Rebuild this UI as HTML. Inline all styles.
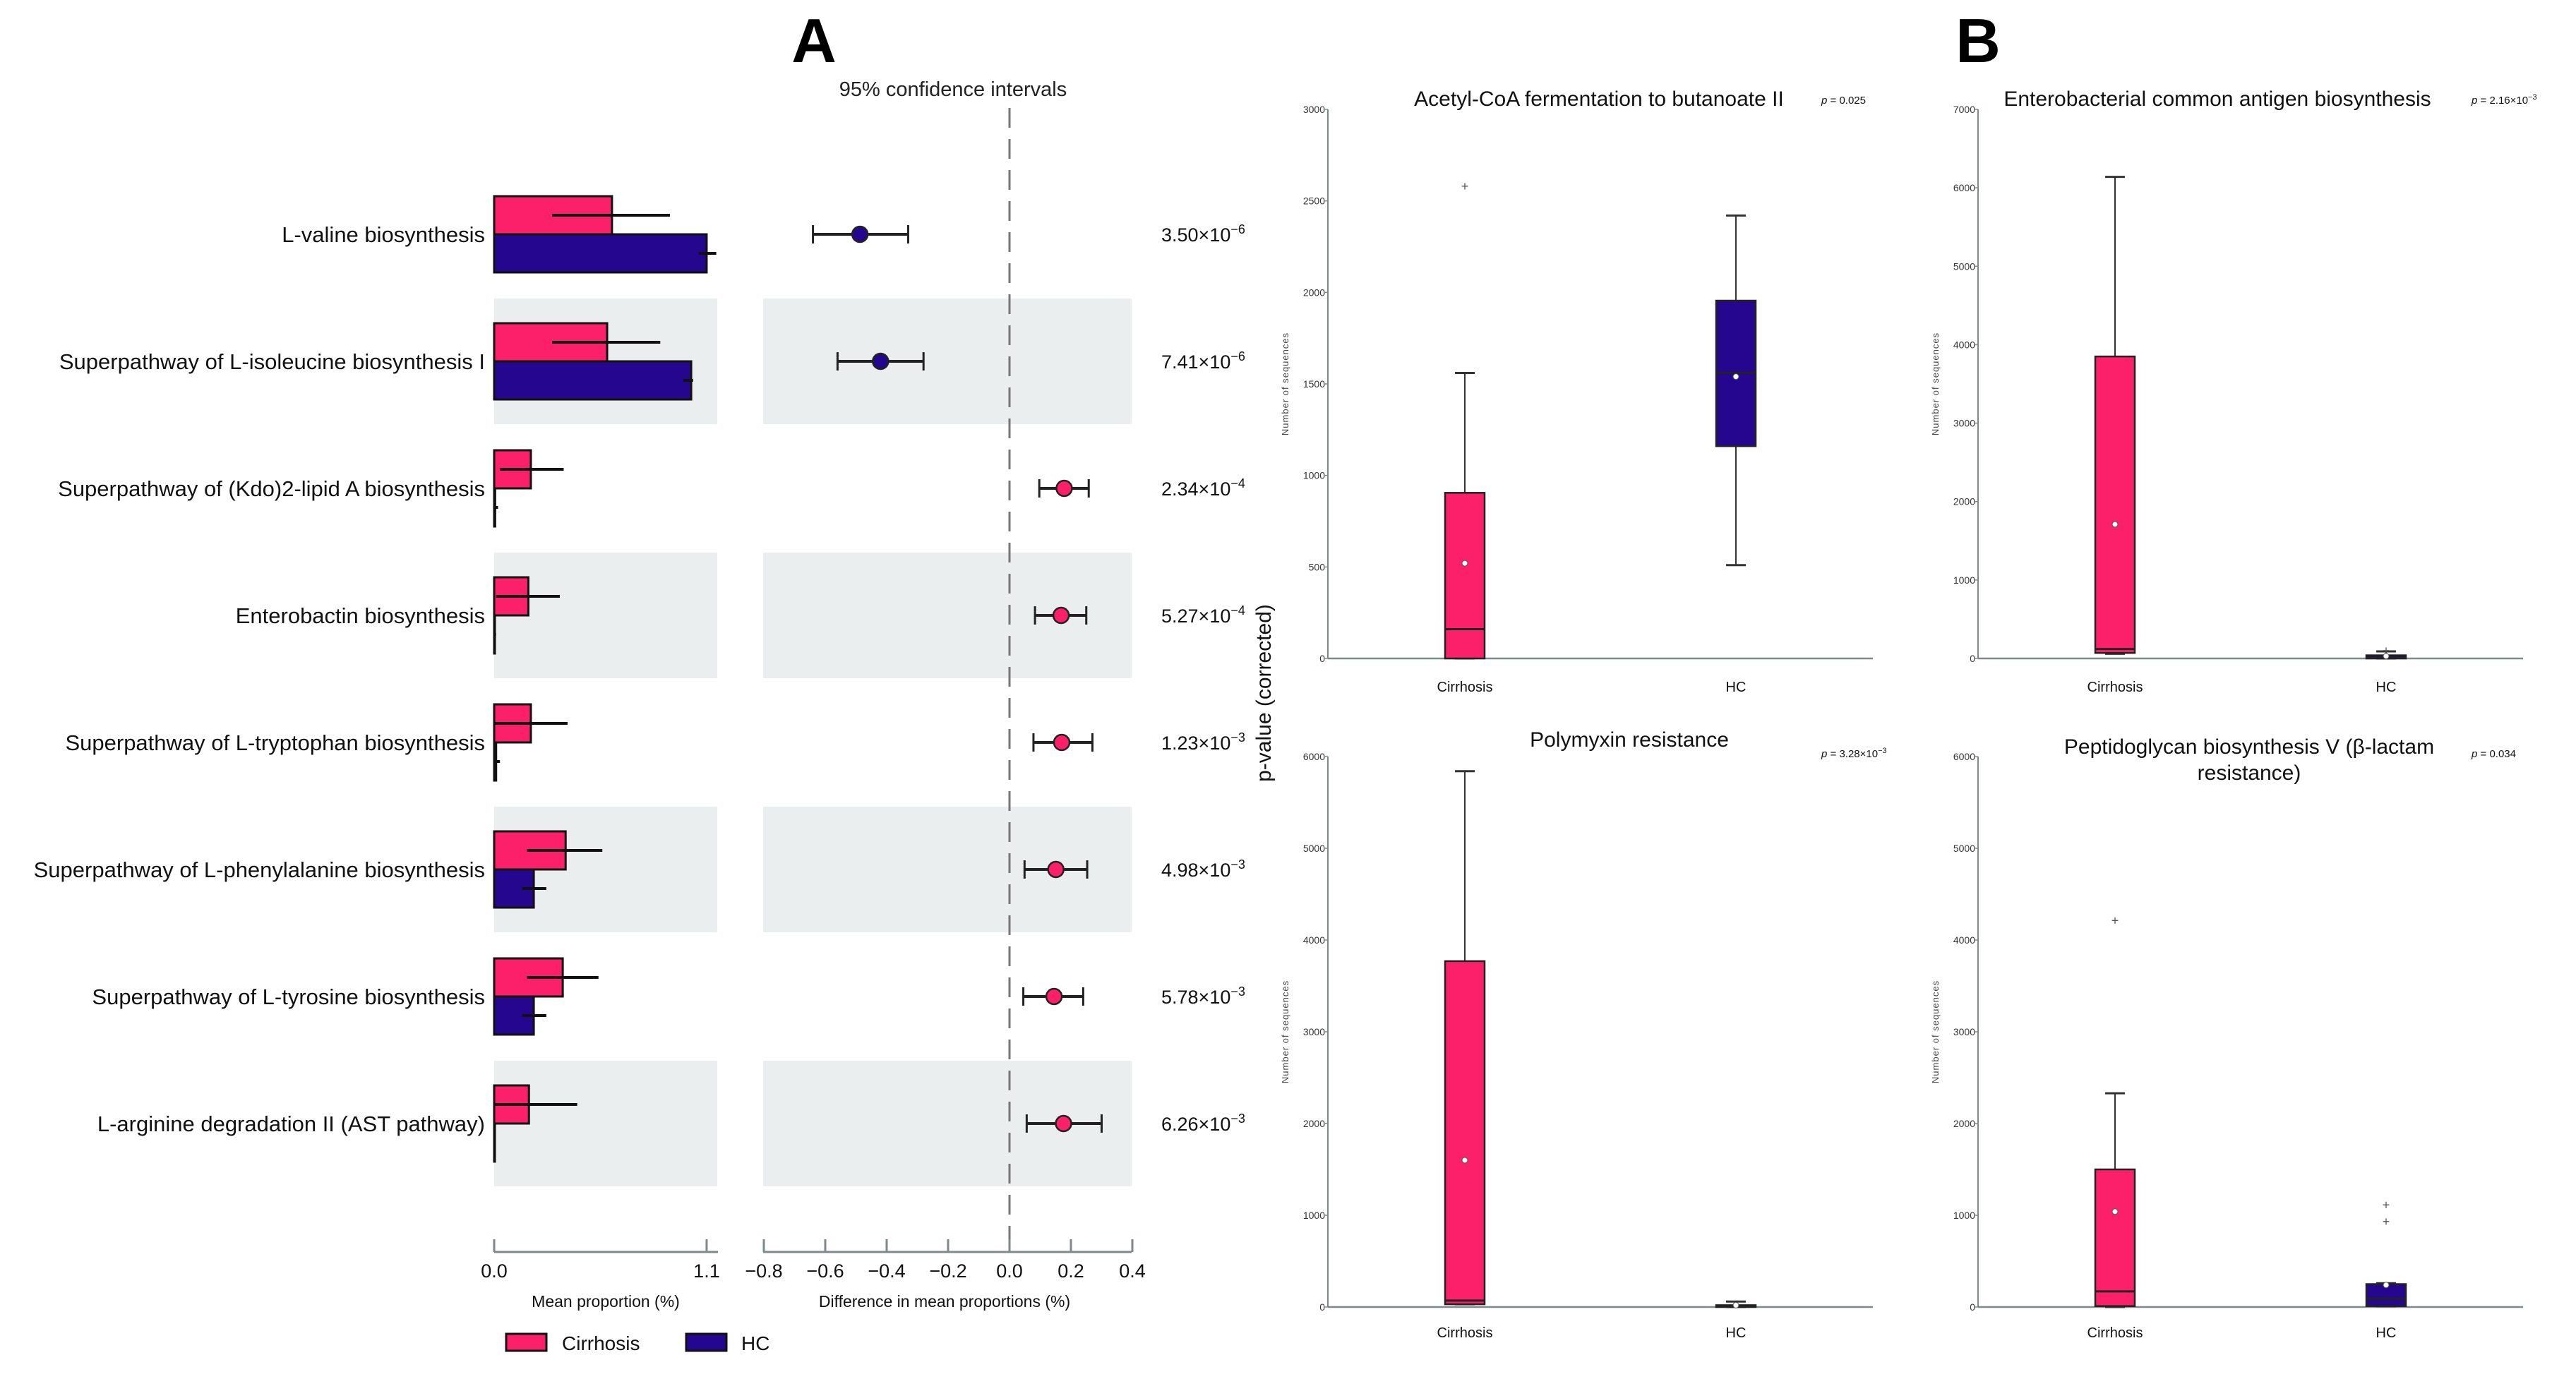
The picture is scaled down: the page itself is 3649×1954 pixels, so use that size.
<!DOCTYPE html>
<html><head><meta charset="utf-8"><style>
html,body{margin:0;padding:0;background:#fff}
svg{display:block;font-family:"Liberation Sans",sans-serif}
</style></head><body>
<svg id="fig" width="3649" height="1954" viewBox="0 0 3649 1954" xmlns="http://www.w3.org/2000/svg">
<text x="1153" y="88" font-size="88" font-weight="bold" text-anchor="middle">A</text>
<text x="2802" y="88" font-size="88" font-weight="bold" text-anchor="middle">B</text>
<text x="1350" y="136" font-size="29" text-anchor="middle" fill="#222">95% confidence intervals</text>
<text transform="translate(1800,982) rotate(-90)" font-size="30" text-anchor="middle" fill="#111">p-value (corrected)</text>
<g id="gA"></g><g id="gB"></g>
</svg>
<script>
const pathways=["L-valine biosynthesis","Superpathway of L-isoleucine biosynthesis I","Superpathway of (Kdo)2-lipid A biosynthesis","Enterobactin biosynthesis","Superpathway of L-tryptophan biosynthesis","Superpathway of L-phenylalanine biosynthesis","Superpathway of L-tyrosine biosynthesis","L-arginine degradation II (AST pathway)"];
const cirrMean=[0.61,0.585,0.19,0.177,0.19,0.37,0.355,0.18];
const cirrErrLo=[0.30,0.30,0.03,0.01,0.0,0.17,0.17,0.0];
const cirrErrHi=[0.91,0.86,0.36,0.34,0.38,0.56,0.54,0.43];
const hcMean=[1.10,1.02,0.005,0.003,0.01,0.205,0.205,0.0];
const hcErrLo=[1.06,0.98,0.0,0.0,0.0,0.145,0.145,0.0];
const hcErrHi=[1.15,1.03,0.02,0.01,0.03,0.27,0.27,0.0];
const diffVal=[-0.487,-0.42,0.178,0.168,0.17,0.151,0.145,0.176];
const diffLo=[-0.64,-0.56,0.097,0.083,0.078,0.049,0.045,0.056];
const diffHi=[-0.33,-0.28,0.258,0.25,0.27,0.253,0.24,0.30];
const pMant=["3.50","7.41","2.34","5.27","1.23","4.98","5.78","6.26"];
const pExp=["-6","-6","-4","-4","-3","-3","-3","-3"];
const barTicks=[0.0,1.1];
const diffTicks=[-0.8,-0.6,-0.4,-0.2,0.0,0.2,0.4];

const PINK="#fc1f6a",NAVY="#25078f",SHADE="#ebeeee",AX="#7c8a8a";
const NS="http://www.w3.org/2000/svg";
function mk(tag,attrs,parent,txt){const e=document.createElementNS(NS,tag);for(const k in attrs)e.setAttribute(k,attrs[k]);if(txt!==undefined)e.textContent=txt;parent.appendChild(e);return e;}
const gA=document.getElementById('gA');
const bx=v=>700+v*273.6;
const dx=v=>1430+v*435;
const rowY=i=>332+i*180;

for(let i=0;i<pathways.length;i++){
  const cy=rowY(i);
  if(i%2===1){
    const s1=mk('rect',{x:700,y:cy-89,width:316,height:178,fill:SHADE},gA);
    
    
    const s2=mk('rect',{x:1081,y:cy-89,width:522,height:178,fill:SHADE},gA);
    
    
  }
}
const dl=mk('line',{x1:dx(0),y1:153,x2:dx(0),y2:1774,stroke:"#777","stroke-width":3,"stroke-dasharray":"28 16"},gA);



for(let i=0;i<pathways.length;i++){
  const cy=rowY(i);
  const lb=mk('text',{x:687,y:cy+11,"font-size":31,"text-anchor":"end",fill:"#111"},gA,pathways[i]);
  
  
  const b1=mk('rect',{x:bx(0),y:cy-54,width:Math.max(bx(cirrMean[i])-bx(0),1),height:54,fill:PINK,stroke:"#111","stroke-width":3},gA);
  
  
  const b2=mk('rect',{x:bx(0),y:cy,width:Math.max(bx(hcMean[i])-bx(0),1),height:54,fill:NAVY,stroke:"#111","stroke-width":3},gA);
  
  
  const e1=mk('line',{x1:bx(cirrErrLo[i]),x2:bx(cirrErrHi[i]),y1:cy-27,y2:cy-27,stroke:"#111","stroke-width":4},gA);
  
  
  const e2=mk('line',{x1:bx(hcErrLo[i]),x2:bx(hcErrHi[i]),y1:cy+27,y2:cy+27,stroke:"#111","stroke-width":4},gA);
  
  
  const g=mk('g',{},gA);
  
  
  mk('line',{x1:dx(diffLo[i]),x2:dx(diffHi[i]),y1:cy,y2:cy,stroke:"#222","stroke-width":4},g);
  mk('line',{x1:dx(diffLo[i]),x2:dx(diffLo[i]),y1:cy-13,y2:cy+13,stroke:"#222","stroke-width":3},g);
  mk('line',{x1:dx(diffHi[i]),x2:dx(diffHi[i]),y1:cy-13,y2:cy+13,stroke:"#222","stroke-width":3},g);
  mk('circle',{cx:dx(diffVal[i]),cy:cy,r:11,fill:diffVal[i]<0?NAVY:PINK,stroke:"#222","stroke-width":2.5},g);
  const pt=mk('text',{x:1645,y:cy+10,"font-size":27,fill:"#111"},gA);
  
  
  pt.textContent=pMant[i]+"×10";
  mk('tspan',{dy:-11,"font-size":18},pt,pExp[i].replace('-','−'));
}
mk('line',{x1:700,x2:1017,y1:1774,y2:1774,stroke:AX,"stroke-width":3},gA);
mk('line',{x1:1081,x2:1603,y1:1774,y2:1774,stroke:AX,"stroke-width":3},gA);
barTicks.forEach(t=>{mk('line',{x1:bx(t),x2:bx(t),y1:1756,y2:1774,stroke:AX,"stroke-width":3},gA);
  const tl=mk('text',{x:bx(t),y:1810,"font-size":27,"text-anchor":"middle",fill:"#111"},gA,t.toFixed(1));
  
  });
diffTicks.forEach(t=>{mk('line',{x1:dx(t),x2:dx(t),y1:1756,y2:1774,stroke:AX,"stroke-width":3},gA);
  const tl=mk('text',{x:dx(t),y:1810,"font-size":27,"text-anchor":"middle",fill:"#111"},gA,(t<0?"−":"")+Math.abs(t).toFixed(1));
  
  });
const t1=mk('text',{x:858,y:1852,"font-size":23,"text-anchor":"middle",fill:"#111"},gA,"Mean proportion (%)");


const t2=mk('text',{x:1338,y:1852,"font-size":23,"text-anchor":"middle",fill:"#111"},gA,"Difference in mean proportions (%)");


const lg1=mk('g',{},gA);


mk('rect',{x:717,y:1890,width:57,height:24,fill:PINK,stroke:"#111","stroke-width":3},lg1);
mk('text',{x:796,y:1913,"font-size":28,fill:"#111"},lg1,"Cirrhosis");
const lg2=mk('g',{},gA);


mk('rect',{x:972,y:1890,width:57,height:24,fill:NAVY,stroke:"#111","stroke-width":3},lg2);
mk('text',{x:1050,y:1913,"font-size":28,fill:"#111"},lg2,"HC");

const boxTitles=[["Acetyl-CoA fermentation to butanoate II"],["Enterobacterial common antigen biosynthesis"],["Polymyxin resistance"],["Peptidoglycan biosynthesis V (β-lactam","resistance)"]];
const boxP=[["0.025",""],["2.16×10","−3"],["3.28×10","−3"],["0.034",""]];
const yMax=[3000,7000,6000,6000];
const yStep=[500,1000,1000,1000];
// [whiskerLow, q1, median, q3, whiskerHigh, mean]
const cirrStats=[[0,0,160,905,1560,520],[60,70,120,3850,6140,1710],[30,30,70,3770,5840,1600],[0,10,170,1500,2330,1040]];
const hcStats=[[510,1160,1560,1955,2420,1540],[0,0,10,40,90,30],[0,0,5,20,60,20],[10,10,90,250,260,240]];
const cirrOut=[[2580],[],[],[4210]];
const hcOut=[[],[100],[],[1110,930]];
const layout=[{ax:1881,top:155,bot:933,right:2653,tx:384},{ax:2802,top:155,bot:933,right:3574,tx:339},{ax:1881,top:1072,bot:1852,right:2653,tx:427},{ax:2802,top:1072,bot:1852,right:3574,tx:384}];
const gB=document.getElementById('gB');
for(let k=0;k<4;k++){
  const L=layout[k];
  const g=mk('g',{},gB);
  
  
  const y=v=>L.bot-(v/yMax[k])*(L.bot-L.top);
  const xC=L.ax+194, xH=L.ax+578;
  mk('line',{x1:L.ax,x2:L.ax,y1:L.top,y2:L.bot,stroke:AX,"stroke-width":2},g);
  mk('line',{x1:L.ax,x2:L.right,y1:L.bot,y2:L.bot,stroke:AX,"stroke-width":2.5},g);
  for(let v=0;v<=yMax[k];v+=yStep[k]){
    mk('line',{x1:L.ax-4,x2:L.ax,y1:y(v),y2:y(v),stroke:AX,"stroke-width":1.5},g);
    const tl=mk('text',{x:L.ax-4,y:y(v)+5,"font-size":14,"text-anchor":"end",fill:"#333"},g,String(v));
    
    
  }
  const yl=mk('text',{transform:`translate(${L.ax-56},${(L.top+L.bot)/2}) rotate(-90)`,"font-size":13,"text-anchor":"middle",fill:"#444","letter-spacing":"1"},g,"Number of sequences");
  
  
  boxTitles[k].forEach((line,j)=>{
    const tt=mk('text',{x:L.ax+L.tx,y:(k<2?150:(k===2?1058:1068))+j*37,"font-size":30,"text-anchor":"middle",fill:"#111"},g,line);
    
    
  });
  const pt=mk('text',{x:L.ax+699,y:k<2?147:1073,"font-size":15,fill:"#111"},g);
  
  
  mk('tspan',{"font-style":"italic"},pt,"p");
  mk('tspan',{},pt," = "+boxP[k][0]);
  if(boxP[k][1]) mk('tspan',{dy:-6,"font-size":11},pt,boxP[k][1]);
  [[xC,cirrStats[k],cirrOut[k],PINK,"Cirrhosis"],[xH,hcStats[k],hcOut[k],NAVY,"HC"]].forEach(([cx,s,outs,col,name])=>{
    const bg=mk('g',{},g);
    
    
    mk('line',{x1:cx,x2:cx,y1:y(s[4]),y2:y(s[3]),stroke:"#333","stroke-width":2},bg);
    mk('line',{x1:cx,x2:cx,y1:y(s[1]),y2:y(s[0]),stroke:"#333","stroke-width":2},bg);
    mk('line',{x1:cx-14,x2:cx+14,y1:y(s[4]),y2:y(s[4]),stroke:"#333","stroke-width":3},bg);
    mk('line',{x1:cx-14,x2:cx+14,y1:y(s[0]),y2:y(s[0]),stroke:"#333","stroke-width":3},bg);
    mk('rect',{x:cx-28,y:y(s[3]),width:56,height:Math.max(y(s[1])-y(s[3]),2),fill:col,stroke:"#222","stroke-width":2.5},bg);
    mk('line',{x1:cx-28,x2:cx+28,y1:y(s[2]),y2:y(s[2]),stroke:"#222","stroke-width":3},bg);
    mk('circle',{cx:cx,cy:y(s[5]),r:4,fill:"#fff",stroke:"#555","stroke-width":1},bg);
    outs.forEach(o=>{mk('text',{x:cx,y:y(o)+6,"font-size":18,"text-anchor":"middle",fill:"#555"},bg,"+");});
    const xl=mk('text',{x:cx,y:k<2?980:1895,"font-size":20,"text-anchor":"middle",fill:"#111"},g,name);
    
    
  });
}
</script>
</body></html>
